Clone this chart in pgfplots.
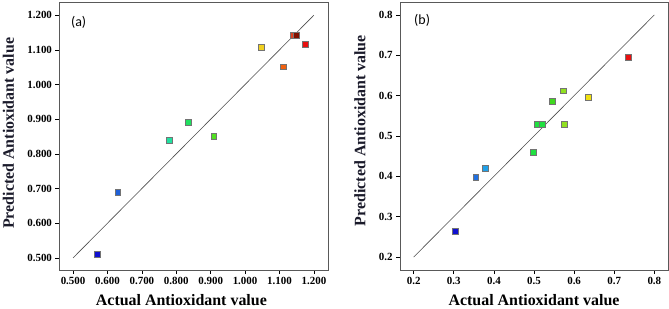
\documentclass[border=0pt]{standalone}
\usepackage{fontspec}
\setmainfont{Liberation Serif}
\newfontfamily\panelfont{Carlito}
\usepackage{pgfplots}
\pgfplotsset{compat=1.18}
\definecolor{a1}{HTML}{1010D0}
\definecolor{a2}{HTML}{1F60D8}
\definecolor{a3}{HTML}{20E0A0}
\definecolor{a4}{HTML}{20E060}
\definecolor{a5}{HTML}{50E020}
\definecolor{a6}{HTML}{F0D020}
\definecolor{a7}{HTML}{F06010}
\definecolor{a8}{HTML}{E04020}
\definecolor{a9}{HTML}{801000}
\definecolor{a10}{HTML}{E81010}
\definecolor{b1}{HTML}{1010D0}
\definecolor{b2}{HTML}{2070E0}
\definecolor{b3}{HTML}{20A0E8}
\definecolor{b4}{HTML}{20E040}
\definecolor{b5}{HTML}{40D820}
\definecolor{b6}{HTML}{90E020}
\definecolor{b7}{HTML}{F0E010}
\definecolor{b8}{HTML}{E81010}
\definecolor{ylab}{HTML}{1A1A2A}
\begin{document}
\begin{tikzpicture}[x=1bp,y=1bp]
\pgfplotsset{
  base/.style={
    scale only axis, width=268.5bp, height=268bp,
    axis line style={black!65, line width=0.7pt},
    tick align=outside, xtick pos=bottom, ytick pos=left,
    tick style={black, line width=0.6pt}, major tick length=4bp,
    tick label style={font=\fontsize{11}{13}\selectfont\bfseries},
    xlabel={Actual Antioxidant value},
    ylabel={Predicted Antioxidant value},
    xlabel style={font=\fontsize{16}{18}\selectfont\bfseries, anchor=center},
    ylabel style={font=\fontsize{16}{18}\selectfont\bfseries, anchor=center, color=ylab},
  },
  pt/.style={only marks, mark=square*, mark size=2.9bp, mark options={fill=#1, draw=black!55, line width=0.5pt}},
}
\begin{axis}[base,
  at={(0bp,0bp)},
  xmin=0.4605, xmax=1.241, ymin=0.465, ymax=1.238,
  xtick={0.5,0.6,...,1.2}, ytick={0.5,0.6,...,1.2},
  xticklabel={\textbf{\pgfmathprintnumber[fixed,fixed zerofill,precision=3,assume math mode=true]{\tick}}},
  yticklabel={\textbf{\pgfmathprintnumber[fixed,fixed zerofill,precision=3,assume math mode=true]{\tick}}},
  xlabel style={at={([yshift=-30bp]axis description cs:0.454,0)}},
  ylabel style={at={([xshift=-51bp]axis description cs:0,0.51)}},
]
\addplot[no marks, draw=black!70, line width=0.6pt] coordinates {(0.5,0.5) (1.2,1.2)};
\addplot[pt=a1] coordinates {(0.570,0.511)};
\addplot[pt=a2] coordinates {(0.630,0.689)};
\addplot[pt=a3] coordinates {(0.779,0.839)};
\addplot[pt=a4] coordinates {(0.834,0.892)};
\addplot[pt=a5] coordinates {(0.909,0.850)};
\addplot[pt=a6] coordinates {(1.048,1.108)};
\addplot[pt=a7] coordinates {(1.110,1.051)};
\addplot[pt=a8] coordinates {(1.140,1.142)};
\addplot[pt=a9] coordinates {(1.148,1.142)};
\addplot[pt=a10] coordinates {(1.176,1.116)};
\node[font=\panelfont\fontsize{14}{16}\selectfont, anchor=west] at (axis description cs:0.03,0.925) {(a)};
\end{axis}
\begin{axis}[base,
  at={(340.5bp,0bp)}, width=268bp,
  xmin=0.166, xmax=0.834, ymin=0.168, ymax=0.832,
  xtick={0.2,0.3,...,0.8}, ytick={0.2,0.3,...,0.8},
  xticklabel={\textbf{\pgfmathprintnumber[fixed,fixed zerofill,precision=1,assume math mode=true]{\tick}}},
  yticklabel={\textbf{\pgfmathprintnumber[fixed,fixed zerofill,precision=1,assume math mode=true]{\tick}}},
  xlabel style={at={([yshift=-30bp]axis description cs:0.5,0)}},
  ylabel style={at={([xshift=-40bp]axis description cs:0,0.52)}},
]
\addplot[no marks, draw=black!70, line width=0.6pt] coordinates {(0.2,0.2) (0.8,0.8)};
\addplot[pt=b1] coordinates {(0.303,0.265)};
\addplot[pt=b2] coordinates {(0.355,0.397)};
\addplot[pt=b3] coordinates {(0.378,0.420)};
\addplot[pt=b4] coordinates {(0.499,0.460)};
\addplot[pt=b4] coordinates {(0.508,0.529)};
\addplot[pt=b4] coordinates {(0.521,0.529)};
\addplot[pt=b5] coordinates {(0.545,0.587)};
\addplot[pt=b6] coordinates {(0.572,0.612)};
\addplot[pt=b6] coordinates {(0.575,0.529)};
\addplot[pt=b7] coordinates {(0.636,0.596)};
\addplot[pt=b8] coordinates {(0.735,0.696)};
\node[font=\panelfont\fontsize{14}{16}\selectfont, anchor=west] at (axis description cs:0.04,0.93) {(b)};
\end{axis}
\pgfresetboundingbox
\useasboundingbox (-59.5bp,-39bp) rectangle (609.5bp,270bp);
\end{tikzpicture}
\end{document}
